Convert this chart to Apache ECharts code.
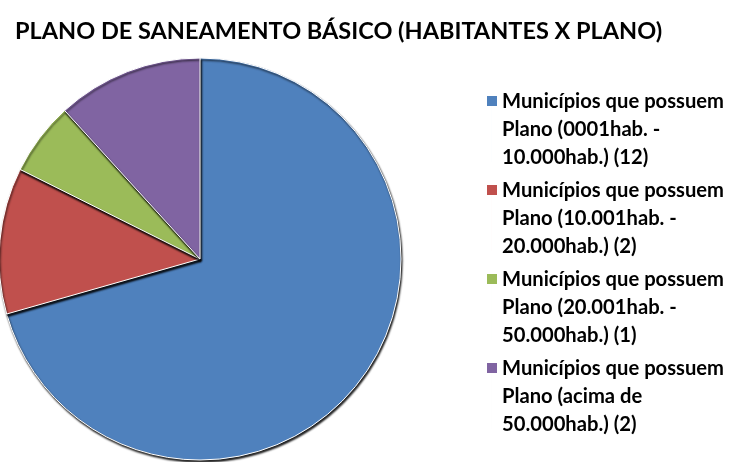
<!DOCTYPE html>
<html><head><meta charset="utf-8">
<script src="https://cdn.jsdelivr.net/npm/echarts@6/dist/echarts.min.js"></script>
<style>html,body{margin:0;padding:0;background:#fff}#c{width:732px;height:462px}</style>
</head><body><div id="c"></div>
<script>
const titleText = 'PLANO DE SANEAMENTO BÁSICO (HABITANTES X PLANO)';
const categories = [
  'Municípios que possuem\nPlano (0001hab. -\n10.000hab.) (12)',
  'Municípios que possuem\nPlano (10.001hab. -\n20.000hab.) (2)',
  'Municípios que possuem\nPlano (20.001hab. -\n50.000hab.) (1)',
  'Municípios que possuem\nPlano (acima de\n50.000hab.) (2)'
];
const values = [12, 2, 1, 2];
const colors = ['#4F81BD', '#C0504D', '#9BBB59', '#8064A2'];

const chart = echarts.init(document.getElementById('c'));
chart.setOption({
  animation: false,
  color: colors,
  title: {
    text: titleText, left: 10, top: 14,
    textStyle: {fontFamily: 'Lato', fontWeight: 'bold', fontSize: 23.5, color: '#000'}
  },
  legend: {
    orient: 'vertical', left: 482, top: 82,
    itemWidth: 10, itemHeight: 66, itemGap: 5,
    icon: 'path://M0,0L10,0L10,10L0,10Z M4.995,10L5,10L5,66L4.995,66Z',
    itemStyle: {borderWidth: 0, shadowBlur: 0, shadowOffsetX: 0, shadowOffsetY: 0, shadowColor: 'transparent'},
    data: categories,
    textStyle: {fontFamily: 'Lato', fontWeight: 'bold', fontSize: 20.2, color: '#000', lineHeight: 28}
  },
  series: [{
    type: 'pie',
    center: [200, 259], radius: 201,
    startAngle: 90, clockwise: true,
    label: {show: false}, labelLine: {show: false},
    itemStyle: {borderColor: '#fff', borderWidth: 1, shadowColor: 'rgba(0,0,0,0.9)', shadowBlur: 2, shadowOffsetX: 1, shadowOffsetY: 2},
    emphasis: {disabled: true},
    data: categories.map((n, i) => ({name: n, value: values[i]}))
  }]
});
</script></body></html>
